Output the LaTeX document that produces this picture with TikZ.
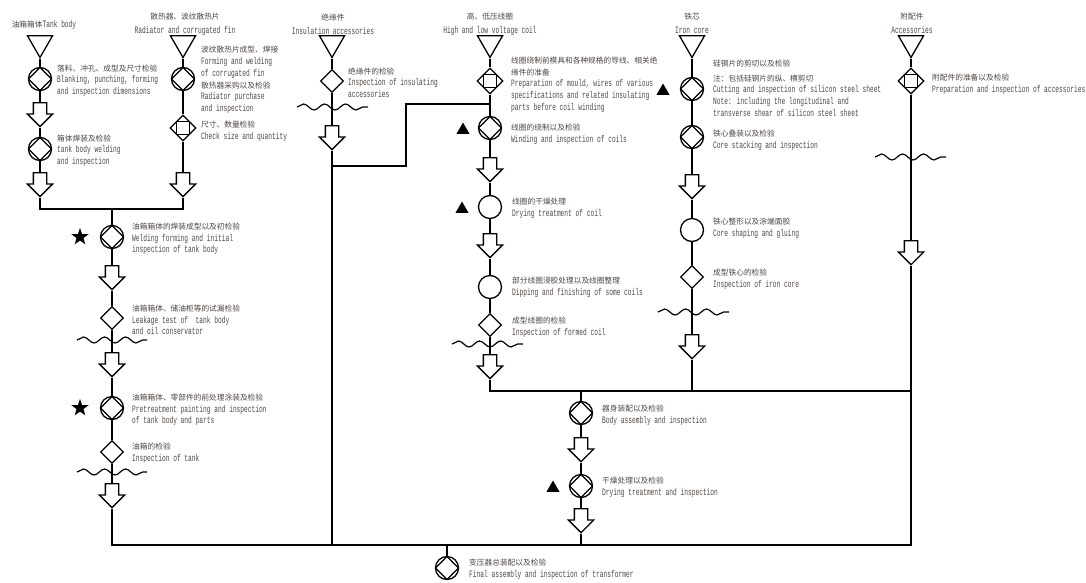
\documentclass[tikz,border=0pt]{standalone}
\usepackage{fontspec}
\newfontfamily\cjk{Noto Sans CJK SC}
\newfontfamily\mono[FakeStretch=0.635]{Liberation Mono}
\newcommand{\zhtext}[1]{{\cjk\fontsize{7.7}{11.7}\selectfont #1}}
\usetikzlibrary{shapes.geometric,shapes.arrows,decorations.pathmorphing}
\definecolor{txt}{RGB}{78,70,64}
\tikzset{
  flow/.style={line width=1.3pt},
  opinsp/.style={circle,draw,line width=1.3pt,minimum size=23pt,inner sep=0pt,
    path picture={\draw[line width=1.3pt] (path picture bounding box.north) -- (path picture bounding box.east) -- (path picture bounding box.south) -- (path picture bounding box.west) -- cycle;}},
  proc/.style={circle,draw,line width=1.3pt,minimum size=23pt,inner sep=0pt},
  insp/.style={diamond,draw,line width=1.3pt,minimum size=23pt,inner sep=0pt},
  store/.style={diamond,draw,line width=1.3pt,minimum size=26pt,inner sep=0pt,
    path picture={\draw[line width=1.3pt] ([shift={(-6.5pt,-6.5pt)}]path picture bounding box.center) rectangle +(13pt,13pt);}},
  src/.style={regular polygon,regular polygon sides=3,shape border rotate=180,draw,line width=1.3pt,minimum size=29pt,inner sep=0pt},
  move/.style={single arrow,shape border rotate=270,draw,line width=1.3pt,minimum height=24pt,minimum width=24pt,single arrow head extend=6pt,inner sep=6pt,anchor=tail},
  star5/.style={star,star points=5,star point ratio=2.5,fill,minimum size=18pt,inner sep=0pt},
  keypt/.style={regular polygon,regular polygon sides=3,fill,minimum size=15pt,inner sep=0pt},
  lbl/.style={anchor=west,align=left,inner sep=0pt,text=txt,font=\mono\fontsize{9.8}{11.7}\selectfont},
  ttl/.style={align=center,inner sep=0pt,text=txt,font=\mono\fontsize{9.8}{14}\selectfont},
  wave/.style={line width=1.2pt,decorate,decoration={snake,amplitude=3pt,segment length=21pt}},
}
\begin{document}
\begin{tikzpicture}[x=1pt,y=-1pt]
\useasboundingbox (0,0) rectangle (1086,582);
% titles
\node[ttl] (tA) at (44,25) {\zhtext{油箱箱体}Tank body};
\node[ttl] (tB) at (185,24) {\zhtext{散热器、波纹散热片}\\Radiator and corrugated fin};
\node[ttl] (tC) at (333,24) {\zhtext{绝缘件}\\Insulation accessories};
\node[ttl] (tD) at (490,24) {\zhtext{高、低压线圈}\\High and low voltage coil};
\node[ttl] (tE) at (692,23.5) {\zhtext{铁芯}\\Iron core};
\node[ttl] (tF) at (912,23.5) {\zhtext{附配件}\\Accessories};
% tank body
\node[src] (sA) at (40,43) {};
\node[opinsp] (a1) at (40,79) {};
\node[move] (mA1) at (40,102) {};
\node[opinsp] (a2) at (40,149) {};
\node[move] (mA2) at (40,172) {};
\node[lbl] (la1) at (57,80.5) {\zhtext{落料、冲孔、成型及尺寸检验}\\Blanking, punching, forming\\and inspection dimensions};
\node[lbl] (la2) at (57,150.5) {\zhtext{箱体焊装及检验}\\tank body welding\\and inspection};
% radiator
\node[src] (sB) at (183,43) {};
\node[opinsp] (b1) at (183,79) {};
\node[store] (b2) at (183,128) {};
\node[move] (mB) at (183,172) {};
\node[lbl] (lb1) at (201,80) {\zhtext{波纹散热片成型、焊接}\\Forming and welding\\of corrugated fin\\\zhtext{散热器采购以及检验}\\Radiator purchase\\and inspection};
\node[lbl] (lb2) at (201,131.5) {\zhtext{尺寸、数量检验}\\Check size and quantity};
% tank assembly
\coordinate (jA) at (40,209);
\coordinate (jB) at (183,209);
\coordinate (jG) at (112,209);
\node[opinsp] (g1) at (112,237) {};
\node[star5] (k1) at (80,237) {};
\node[move] (mG1) at (112,265) {};
\node[insp] (g2) at (112,318) {};
\node[move] (mG2) at (112,352) {};
\node[opinsp] (g3) at (112,408) {};
\node[star5] (k2) at (80,408) {};
\node[insp] (g4) at (112,452) {};
\node[move] (mG3) at (112,483) {};
\coordinate (gEnd) at (112,545);
\node[lbl] (lg1) at (132,239) {\zhtext{油箱箱体的焊装成型以及初检验}\\Welding forming and initial\\inspection of tank body};
\node[lbl] (lg2) at (132,320) {\zhtext{油箱箱体、储油柜等的试漏检验}\\Leakage test of\ \ tank body\\and oil conservator};
\node[lbl] (lg3) at (132,410) {\zhtext{油箱箱体、零部件的前处理涂装及检验}\\Pretreatment painting and inspection\\of tank body and parts};
\node[lbl] (lg4) at (132,453.5) {\zhtext{油箱的检验}\\Inspection of tank};
% insulation
\node[src] (sC) at (332,43) {};
\node[insp] (c1) at (332,81) {};
\node[move] (mC) at (332,125) {};
\coordinate (cJ) at (332,166);
\coordinate (cEnd) at (332,545);
\node[lbl] (lc1) at (348,82.5) {\zhtext{绝缘件的检验}\\Inspection of insulating\\accessories};
% coil
\node[src] (sD) at (490,43) {};
\node[store] (d1) at (490,81) {};
\node[opinsp] (d2) at (490,128) {};
\node[keypt] (k3) at (463,130) {};
\node[move] (mD1) at (490,157) {};
\node[proc] (d3) at (490,207) {};
\node[keypt] (k4) at (462,209) {};
\node[move] (mD2) at (490,233) {};
\node[proc] (d4) at (490,287) {};
\node[insp] (d5) at (490,325) {};
\node[move] (mD3) at (490,354) {};
\coordinate (dJ) at (490,104);
\coordinate (dEnd) at (490,391);
\node[lbl] (ld1) at (511,84.5) {\zhtext{线圈绕制前模具和各种规格的导线、相关绝}\\\zhtext{缘件的准备}\\Preparation of mould, wires of various\\specifications and related insulating\\parts before coil winding};
\node[lbl] (ld2) at (511,134) {\zhtext{线圈的绕制以及检验}\\Winding and inspection of coils};
\node[lbl] (ld3) at (512,208.5) {\zhtext{线圈的干燥处理}\\Drying treatment of coil};
\node[lbl] (ld4) at (512,287) {\zhtext{部分线圈浸胶处理以及线圈整理}\\Dipping and finishing of some coils};
\node[lbl] (ld5) at (512,327) {\zhtext{成型线圈的检验}\\Inspection of formed coil};
% iron core
\node[src] (sE) at (692,43) {};
\node[opinsp] (e1) at (692,89) {};
\node[keypt] (k5) at (663,91) {};
\node[opinsp] (e2) at (692,137) {};
\node[move] (mE1) at (692,174) {};
\node[proc] (e3) at (692,230) {};
\node[insp] (e4) at (692,277) {};
\node[move] (mE2) at (692,334) {};
\coordinate (eEnd) at (692,391);
\node[lbl] (le1) at (713,88) {\zhtext{硅钢片的剪切以及检验}\\[3pt]\zhtext{注：包括硅钢片的纵、横剪切}\\Cutting and inspection of silicon steel sheet\\Note: including the longitudinal and\\transverse shear of silicon steel sheet};
\node[lbl] (le2) at (713,140) {\zhtext{铁心叠装以及检验}\\Core stacking and inspection};
\node[lbl] (le3) at (713,228) {\zhtext{铁心整形以及涂端面胶}\\Core shaping and gluing};
\node[lbl] (le4) at (713,279) {\zhtext{成型铁心的检验}\\Inspection of iron core};
% accessories
\node[src] (sF) at (911,43) {};
\node[store] (f1) at (911,81) {};
\node[move] (mF) at (911,240) {};
\coordinate (fMid) at (911,391);
\coordinate (fEnd) at (911,545);
\node[lbl] (lf1) at (932,84) {\zhtext{附配件的准备以及检验}\\Preparation and inspection of accessories};
% body assembly
\coordinate (hTop) at (581,391);
\node[opinsp] (h1) at (581,413) {};
\node[move] (mH1) at (581,437) {};
\node[opinsp] (h2) at (581,486) {};
\node[keypt] (k6) at (553,488) {};
\node[move] (mH2) at (581,508) {};
\coordinate (hEnd) at (581,545);
\coordinate (hJ) at (447,545);
\node[opinsp] (h3) at (447,568) {};
\node[lbl] (lh1) at (602,415) {\zhtext{器身装配以及检验}\\Body assembly and inspection};
\node[lbl] (lh2) at (602,487) {\zhtext{干燥处理以及检验}\\Drying treatment and inspection};
\node[lbl] (lh3) at (469,569.5) {\zhtext{变压器总装配以及检验}\\Final assembly and inspection of transformer};
% flow lines
\draw[flow] (sA) -- (a1) -- (mA1) -- (a2) -- (mA2) -- (jA) -- (jB) -- (mB);
\draw[flow] (sB) -- (b1) -- (b2) -- (mB);
\draw[flow] (jG) -- (g1) -- (mG1) -- (g2) -- (mG2) -- (g3) -- (g4) -- (mG3) -- (gEnd) -- (fEnd) -- (mF);
\draw[flow] (sC) -- (c1) -- (mC) -- (cEnd);
\draw[flow] (cJ) -- ++(74,0) |- (dJ);
\draw[flow] (sD) -- (d1) -- (d2) -- (mD1) -- (d3) -- (mD2) -- (d4) -- (d5) -- (mD3) -- (dEnd) -- (fMid);
\draw[flow] (sE) -- (e1) -- (e2) -- (mE1) -- (e3) -- (e4) -- (mE2) -- (eEnd);
\draw[flow] (sF) -- (f1) -- (mF);
\draw[flow] (hTop) -- (h1) -- (mH1) -- (h2) -- (mH2) -- (hEnd);
\draw[flow] (hJ) -- (h3);
% waves
\draw[wave] (297,107) -- (368,107);
\draw[wave] (77,340) -- (147,340);
\draw[wave] (77,472) -- (147,472);
\draw[wave] (452,344) -- (523,344);
\draw[wave] (658,312) -- (729,312);
\draw[wave] (875,157) -- (946,157);
\end{tikzpicture}
\end{document}
